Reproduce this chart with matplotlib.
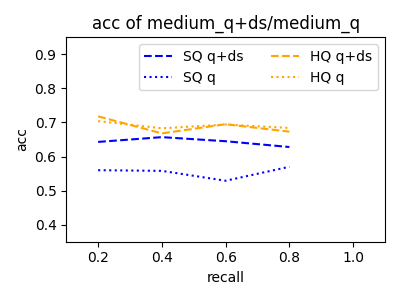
import matplotlib
matplotlib.use("Agg")
import matplotlib.pyplot as plt

recall = [0.2, 0.4, 0.6, 0.8]
sq_qds = [0.643, 0.657, 0.645, 0.628]
sq_q = [0.560, 0.558, 0.529, 0.570]
hq_qds = [0.718, 0.668, 0.695, 0.673]
hq_q = [0.704, 0.683, 0.694, 0.684]

fig, ax = plt.subplots(figsize=(4, 3), dpi=100)
ax.plot(recall, sq_qds, color='blue', linestyle='--', label='SQ q+ds')
ax.plot(recall, sq_q, color='blue', linestyle=':', label='SQ q')
ax.plot(recall, hq_qds, color='orange', linestyle='--', label='HQ q+ds')
ax.plot(recall, hq_q, color='orange', linestyle=':', label='HQ q')
ax.set_xlim(0.1, 1.1)
ax.set_ylim(0.35, 0.95)
ax.set_xticks([0.2, 0.4, 0.6, 0.8, 1.0])
ax.set_yticks([0.4, 0.5, 0.6, 0.7, 0.8, 0.9])
ax.set_xlabel('recall')
ax.set_ylabel('acc')
ax.set_title('acc of medium_q+ds/medium_q')
ax.legend(loc='upper right', ncol=2)
fig.tight_layout()
fig.savefig('out.png')
